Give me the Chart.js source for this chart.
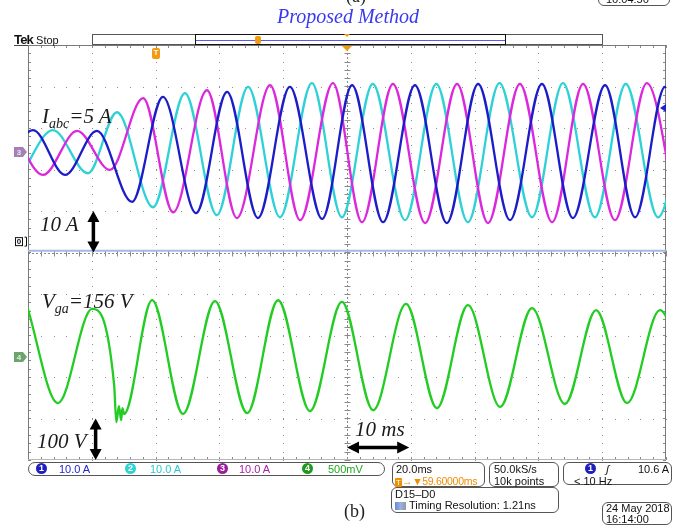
<!DOCTYPE html>
<html>
<head>
<meta charset="utf-8">
<script src="https://cdn.jsdelivr.net/npm/chart.js@4.4.1/dist/chart.umd.min.js"></script>
<style>
  html,body{margin:0;padding:0;background:#fff;}
  #wrap{position:relative;width:674px;height:525px;overflow:hidden;background:#fff;}
  #c{position:absolute;left:0;top:0;}
  .t{position:absolute;white-space:nowrap;line-height:1;}
  .ann{font-family:"Liberation Serif","Times New Roman",serif;font-style:italic;font-size:21px;color:#1a1a1a;}
  .ann sub{font-size:14px;vertical-align:-5px;}
  .ui{font-family:"Liberation Sans",Arial,sans-serif;font-size:11px;color:#111;}
  .box{position:absolute;box-sizing:border-box;border:1px solid #555;border-radius:6px;background:#fff;}
  .circ{position:absolute;width:11px;height:11px;border-radius:50%;color:#fff;font-family:"Liberation Sans",Arial,sans-serif;font-size:9px;font-weight:bold;text-align:center;line-height:11px;}
</style>
</head>
<body>
<div id="wrap">
<canvas id="c" width="674" height="525"></canvas>

<!-- cut-off header remnants -->
<div class="t" style="left:346px;top:-13px;font-family:'Liberation Serif',serif;font-size:18px;color:#222;">(a)</div>
<div class="box" style="left:598px;top:-12px;width:72px;height:18px;"></div>
<div class="t ui" style="left:606px;top:-6px;font-size:11px;">16:04:56</div>

<div class="t" style="left:277px;top:6px;font-family:'Liberation Serif',serif;font-style:italic;font-size:20px;color:#3838f0;">Proposed Method</div>

<div class="t" style="left:14px;top:33px;font-family:'Liberation Sans',Arial,sans-serif;font-size:11px;color:#111;"><b style="font-size:13px;letter-spacing:-0.8px;">Tek</b> Stop</div>

<!-- annotations -->
<div class="t ann" style="left:42px;top:106px;">I<sub>abc</sub>=5 A</div>
<div class="t ann" style="left:40px;top:214px;">10 A</div>
<div class="t ann" style="left:42px;top:291px;">V<sub>ga</sub>=156 V</div>
<div class="t ann" style="left:37px;top:431px;">100 V</div>
<div class="t ann" style="left:355px;top:419px;">10 ms</div>

<!-- bottom status boxes -->
<div class="box" style="left:28px;top:462px;width:357px;height:14px;border-radius:7px;"></div>
<div class="circ" style="left:36px;top:463px;background:#2020c0;">1</div>
<div class="t ui" style="left:59px;top:464px;color:#2424d0;">10.0 A</div>
<div class="circ" style="left:125px;top:463px;background:#30d2d2;">2</div>
<div class="t ui" style="left:150px;top:464px;color:#28c8d0;">10.0 A</div>
<div class="circ" style="left:217px;top:463px;background:#9a1f9a;">3</div>
<div class="t ui" style="left:239px;top:464px;color:#a820a8;">10.0 A</div>
<div class="circ" style="left:302px;top:463px;background:#1f9a1f;">4</div>
<div class="t ui" style="left:328px;top:464px;color:#20a820;">500mV</div>

<div class="box" style="left:392px;top:462px;width:93px;height:25px;"></div>
<div class="t ui" style="left:396px;top:464px;">20.0ms</div>
<div class="t ui" style="left:395px;top:476px;color:#f08c00;font-size:10.5px;letter-spacing:-0.3px;"><span style="display:inline-block;background:#f09000;color:#fff;font-size:8px;width:7px;height:9px;text-align:center;line-height:9px;border-radius:1px;letter-spacing:0;">T</span>→▼59.60000ms</div>

<div class="box" style="left:489px;top:462px;width:70px;height:25px;"></div>
<div class="t ui" style="left:494px;top:464px;">50.0kS/s</div>
<div class="t ui" style="left:494px;top:476px;">10k points</div>

<div class="box" style="left:563px;top:462px;width:109px;height:23px;"></div>
<div class="circ" style="left:585px;top:463px;background:#2020c0;">1</div>
<div class="t ui" style="left:606px;top:464px;font-style:italic;">ʃ</div>
<div class="t ui" style="left:638px;top:464px;">10.6 A</div>
<div class="t ui" style="left:574px;top:476px;">&lt; 10 Hz</div>

<div class="box" style="left:391px;top:487px;width:168px;height:26px;"></div>
<div class="t ui" style="left:395px;top:489px;">D15–D0</div>
<div class="t" style="left:395px;top:502px;width:11px;height:8px;background:linear-gradient(90deg,#6a8ad8,#9ab0e0 50%,#8aa0a0);"></div>
<div class="t ui" style="left:409px;top:500px;">Timing Resolution: 1.21ns</div>

<div class="t" style="left:344px;top:502px;font-family:'Liberation Serif',serif;font-size:18px;color:#222;">(b)</div>

<div class="box" style="left:602px;top:502px;width:70px;height:23px;"></div>
<div class="t ui" style="left:606px;top:503px;">24 May 2018</div>
<div class="t ui" style="left:606px;top:514px;">16:14:00</div>
</div>

<script>
// ---- Data (time in ms, currents in A, voltage in V) ----
// Channel 1 (blue) current extrema
const ch1Time = [-8.4, 1.6, 11.6, 21.6, 32.6, 42.3, 52.7, 62.4, 72.1, 82.1, 92.2, 101.6, 111.3, 121.3, 131.3, 141.1, 151.1, 161.1, 170.8, 180.9, 190.3, 199.7, 209.7];
const ch1Amp  = [-5.5, 5.3, -5.5, 5.1, -12.0, 13.3, -14.7, 14.5, -15.9, 15.7, -16.1, 16.1, -16.9, 16.1, -17.1, 16.4, -16.4, 16.4, -15.9, 16.1, -15.7, 15.7, -15.7];
// Channel 2 (cyan) current extrema
const ch2Time = [-2.2, 7.8, 18.8, 27.9, 39.2, 49.2, 59.2, 69.0, 79.0, 89.0, 98.4, 108.1, 118.2, 128.0, 137.9, 147.8, 158.0, 167.7, 177.7, 187.4, 197.5, 207.2];
const ch2Amp  = [-5.5, 5.3, -5.1, 9.6, -13.3, 14.2, -15.2, 15.7, -15.7, 16.6, -15.7, 16.4, -16.4, 16.4, -16.9, 16.6, -15.7, 16.6, -15.7, 16.4, -15.7, 16.4];
// Channel 3 (magenta) current extrema
const ch3Time = [-4.7, 4.7, 15.4, 25.7, 36.1, 45.5, 56.1, 65.5, 75.9, 85.3, 95.6, 104.7, 114.4, 124.5, 134.5, 144.2, 154.2, 164.3, 174.0, 184.0, 194.0, 203.8];
const ch3Amp  = [5.3, -5.5, 5.1, -4.3, 13.0, -14.5, 14.9, -15.9, 16.1, -16.4, 16.6, -16.9, 16.4, -17.1, 16.4, -17.1, 16.4, -16.9, 16.4, -16.4, 16.6, -16.4];
// Channel 4 (green) grid voltage
const ch4Time = [-0.3, 9.4, 20.1, 27.0, 27.7, 28.5, 29.2, 29.6, 30.1, 38.9, 48.6, 58.6, 68.7, 78.4, 88.4, 98.4, 108.2, 118.5, 128.2, 137.9, 148.0, 158.0, 168.3, 178.1, 187.8, 198.1, 207.8];
const ch4Volt = [123, -111, 116, -67, -157, -118, -152, -123, -137, 137, -137, 135, -135, 137, -130, 133, -128, 128, -123, 125, -120, 118, -113, 113, -111, 113, -111];

// ---- Scope settings ----
const timeDiv = 20;            // ms per division
const currentPerDiv = 10;      // A per division
const voltPerDiv = 100;        // V per division
const currentOffsetDiv = 2.42; // channel 1-3 ground position (divisions)
const voltOffsetDiv = -2.52;   // channel 4 ground position (divisions)

function toPts(ts, vs, perDiv, off){ return ts.map((t,i)=>({x:t, y: vs[i]/perDiv + off})); }

const scopePlugin = {
  id:'scope',
  beforeDatasetsDraw(chart){
    const ctx = chart.ctx, xs = chart.scales.x, ys = chart.scales.y, a = chart.chartArea;
    ctx.save();
    // dotted graticule
    ctx.fillStyle = '#909090';
    for(let i=1;i<10;i++){
      if(i===5) continue;
      const x = Math.round(xs.getPixelForValue(i*timeDiv));
      for(let v=-5; v<=5.001; v+=0.2){ const y=Math.round(ys.getPixelForValue(v)); ctx.fillRect(x,y,1,1); }
    }
    for(let j=-4;j<=4;j++){
      if(j===0) continue;
      const y = Math.round(ys.getPixelForValue(j));
      for(let t=0; t<=200.001; t+=timeDiv/5){ const x=Math.round(xs.getPixelForValue(t)); ctx.fillRect(x,y,1,1); }
    }
    // center cross
    ctx.strokeStyle = '#8a8a8a'; ctx.lineWidth = 1;
    const cx = Math.round(xs.getPixelForValue(100))+0.5, cy = Math.round(ys.getPixelForValue(0))+0.5;
    ctx.setLineDash([2,2]);
    ctx.beginPath(); ctx.moveTo(a.left,cy); ctx.lineTo(a.right,cy); ctx.moveTo(cx,a.top); ctx.lineTo(cx,a.bottom); ctx.stroke();
    ctx.setLineDash([]);
    ctx.beginPath();
    for(let t=0; t<=200.001; t+=timeDiv/5){ const x=Math.round(xs.getPixelForValue(t))+0.5; ctx.moveTo(x,cy-3); ctx.lineTo(x,cy+3);
      ctx.moveTo(x,a.top); ctx.lineTo(x,a.top+3); ctx.moveTo(x,a.bottom); ctx.lineTo(x,a.bottom-3); }
    for(let v=-5; v<=5.001; v+=0.2){ const y=Math.round(ys.getPixelForValue(v))+0.5; ctx.moveTo(cx-3,y); ctx.lineTo(cx+3,y);
      ctx.moveTo(a.left,y); ctx.lineTo(a.left+3,y); ctx.moveTo(a.right,y); ctx.lineTo(a.right-3,y); }
    ctx.stroke();
    // borders
    ctx.strokeStyle = '#7a7a7a';
    ctx.beginPath();
    ctx.moveTo(a.left+0.5,a.bottom); ctx.lineTo(a.left+0.5,a.top+0.5); ctx.lineTo(a.right-0.5,a.top+0.5); ctx.lineTo(a.right-0.5,a.bottom);
    ctx.stroke();
    ctx.strokeStyle = '#b8b8b8';
    ctx.beginPath(); ctx.moveTo(a.left,a.bottom-0.5); ctx.lineTo(a.right,a.bottom-0.5); ctx.stroke();
    ctx.strokeStyle = '#444';
    ctx.beginPath(); ctx.moveTo(14,a.top+0.5); ctx.lineTo(a.left,a.top+0.5); ctx.stroke();
    // digital bus line
    ctx.strokeStyle = '#a4b8e6'; ctx.lineWidth = 2;
    const by = ys.getPixelForValue(0.04);
    ctx.beginPath(); ctx.moveTo(a.left,by); ctx.lineTo(a.right,by); ctx.stroke();
    ctx.restore();
  },
  afterDraw(chart){
    const ctx = chart.ctx, xs = chart.scales.x, ys = chart.scales.y, a = chart.chartArea;
    ctx.save();
    // record bar at top
    ctx.strokeStyle = '#555'; ctx.lineWidth = 1;
    ctx.strokeRect(92.5, 34.5, 510, 10);
    ctx.strokeStyle = '#111';
    ctx.strokeRect(195.5, 34.5, 310, 10);
    ctx.strokeStyle = '#5a5af0';
    ctx.beginPath(); ctx.moveTo(196,40.5); ctx.lineTo(505,40.5); ctx.stroke();
    ctx.fillStyle = '#f29a10';
    roundRect(ctx, 255, 36, 6, 8, 2); ctx.fill();
    tri(ctx, xs.getPixelForValue(100), 34, 3, 3);
    tri(ctx, xs.getPixelForValue(100), 46, 5, 5);
    // orange T marker
    roundRect(ctx, 152, 48, 8, 11, 2); ctx.fill();
    ctx.fillStyle = '#fff'; ctx.font = 'bold 8px "Liberation Sans"'; ctx.textAlign='center'; ctx.textBaseline='middle';
    ctx.fillText('T', 156, 53);
    // channel tags
    tag(ctx, 14, ys.getPixelForValue(currentOffsetDiv), '#a77fb8', '3');
    tag(ctx, 14, ys.getPixelForValue(voltOffsetDiv), '#6aa66a', '4');
    // D0 marker
    const dy = ys.getPixelForValue(0.25);
    ctx.strokeStyle = '#111'; ctx.lineWidth = 1;
    ctx.strokeRect(15.5, dy-4.5, 7, 8);
    ctx.fillStyle='#111'; ctx.font='bold 8px "Liberation Sans"'; ctx.fillText('0', 19, dy);
    ctx.beginPath(); ctx.moveTo(24.5,dy-5); ctx.lineTo(26.5,dy-5); ctx.lineTo(26.5,dy+4); ctx.lineTo(24.5,dy+4); ctx.stroke();
    // trigger level arrow (10.6 A on ch1)
    const ty = ys.getPixelForValue(10.6/currentPerDiv + currentOffsetDiv);
    ctx.fillStyle = '#2020d0';
    ctx.beginPath(); ctx.moveTo(a.right-6, ty); ctx.lineTo(a.right, ty-4); ctx.lineTo(a.right, ty+4); ctx.closePath(); ctx.fill();
    // scale arrows
    vArrow(ctx, xs.getPixelForValue(20.5), ys.getPixelForValue(1), ys.getPixelForValue(0));
    vArrow(ctx, xs.getPixelForValue(21.2), ys.getPixelForValue(-4), ys.getPixelForValue(-5));
    hArrow(ctx, ys.getPixelForValue(-4.7), xs.getPixelForValue(100), xs.getPixelForValue(119.5));
    ctx.restore();
  }
};
function roundRect(ctx,x,y,w,h,r){ctx.beginPath();ctx.moveTo(x+r,y);ctx.lineTo(x+w-r,y);ctx.quadraticCurveTo(x+w,y,x+w,y+r);ctx.lineTo(x+w,y+h-r);ctx.quadraticCurveTo(x+w,y+h,x+w-r,y+h);ctx.lineTo(x+r,y+h);ctx.quadraticCurveTo(x,y+h,x,y+h-r);ctx.lineTo(x,y+r);ctx.quadraticCurveTo(x,y,x+r,y);ctx.closePath();}
function tri(ctx,x,y,hw,h){ctx.beginPath();ctx.moveTo(x-hw,y);ctx.lineTo(x+hw,y);ctx.lineTo(x,y+h);ctx.closePath();ctx.fill();}
function tag(ctx,x,y,col,label){
  ctx.fillStyle=col; ctx.beginPath(); ctx.moveTo(x,y-5); ctx.lineTo(x+9,y-5); ctx.lineTo(x+13,y); ctx.lineTo(x+9,y+5); ctx.lineTo(x,y+5); ctx.closePath(); ctx.fill();
  ctx.fillStyle='#e8e8e8'; ctx.font='bold 8px "Liberation Sans"'; ctx.textAlign='center'; ctx.textBaseline='middle'; ctx.fillText(label,x+5,y+0.5);
}
function vArrow(ctx,x,y1,y2){
  ctx.fillStyle='#000'; ctx.strokeStyle='#000'; ctx.lineWidth=3.5;
  ctx.beginPath(); ctx.moveTo(x,y1+8); ctx.lineTo(x,y2-8); ctx.stroke();
  ctx.beginPath(); ctx.moveTo(x,y1); ctx.lineTo(x-6,y1+11); ctx.lineTo(x+6,y1+11); ctx.closePath(); ctx.fill();
  ctx.beginPath(); ctx.moveTo(x,y2); ctx.lineTo(x-6,y2-11); ctx.lineTo(x+6,y2-11); ctx.closePath(); ctx.fill();
}
function hArrow(ctx,y,x1,x2){
  ctx.fillStyle='#000'; ctx.strokeStyle='#000'; ctx.lineWidth=3.5;
  ctx.beginPath(); ctx.moveTo(x1+8,y); ctx.lineTo(x2-8,y); ctx.stroke();
  ctx.beginPath(); ctx.moveTo(x1,y); ctx.lineTo(x1+12,y-6); ctx.lineTo(x1+12,y+6); ctx.closePath(); ctx.fill();
  ctx.beginPath(); ctx.moveTo(x2,y); ctx.lineTo(x2-12,y-6); ctx.lineTo(x2-12,y+6); ctx.closePath(); ctx.fill();
}

const mk = (pts,color)=>({data:pts,borderColor:color,backgroundColor:color,borderWidth:2.3,pointRadius:0,fill:false,cubicInterpolationMode:'monotone'});

new Chart(document.getElementById('c'), {
  type:'line',
  data:{datasets:[
    mk(toPts(ch1Time, ch1Amp, currentPerDiv, currentOffsetDiv), '#1c1cc8'),
    mk(toPts(ch3Time, ch3Amp, currentPerDiv, currentOffsetDiv), '#dc28dc'),
    mk(toPts(ch2Time, ch2Amp, currentPerDiv, currentOffsetDiv), '#2ed2d6'),
    mk(toPts(ch4Time, ch4Volt, voltPerDiv, voltOffsetDiv), '#22cc22')
  ]},
  options:{
    responsive:false, animation:false, events:[],
    layout:{padding:{left:28,top:45,right:8,bottom:65}},
    scales:{
      x:{type:'linear',min:0,max:200,display:false},
      y:{type:'linear',min:-5,max:5,display:false}
    },
    plugins:{legend:{display:false},tooltip:{enabled:false}}
  },
  plugins:[scopePlugin]
});
</script>
</body>
</html>
